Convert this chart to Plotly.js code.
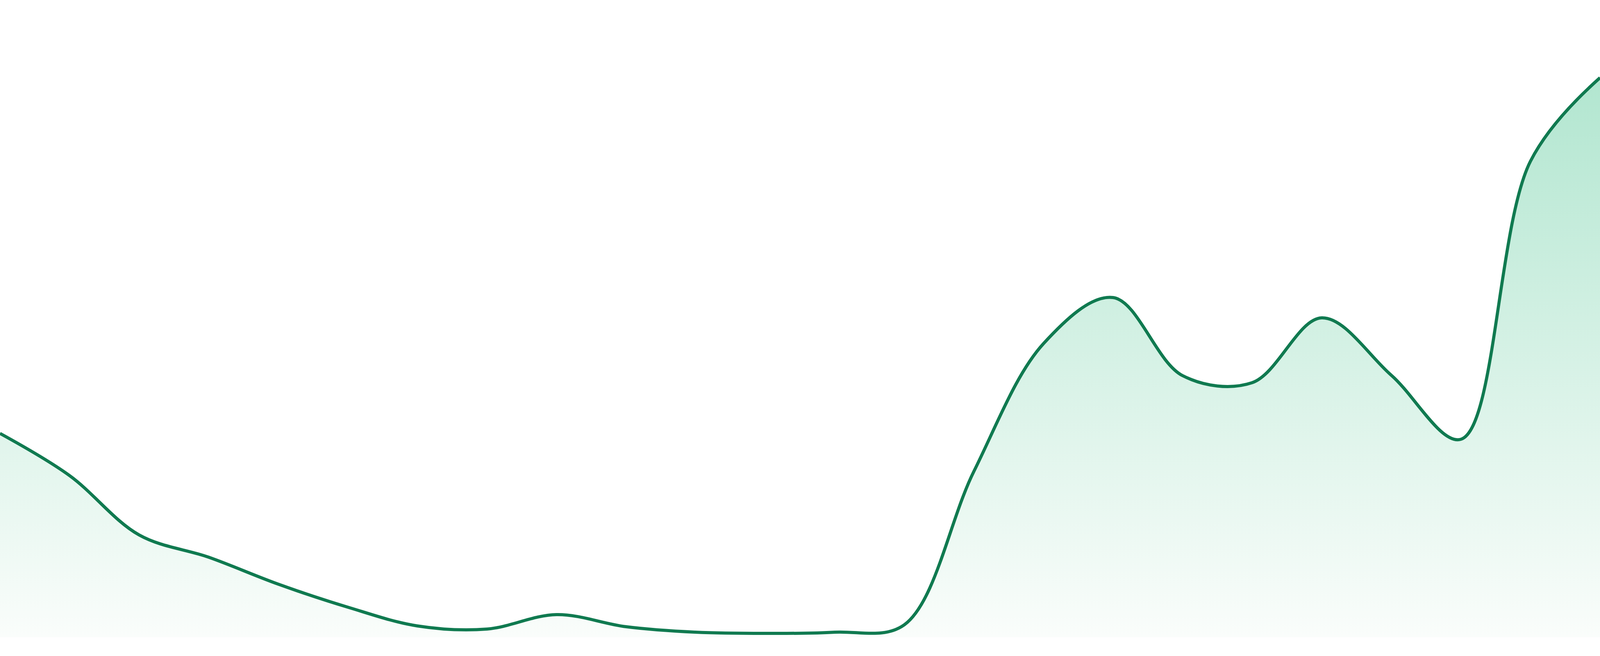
<!DOCTYPE html>
<html>
<head>
<meta charset="utf-8">
<script src="https://cdn.plot.ly/plotly-3.0.1.min.js"></script>
<style>
  html, body { margin: 0; padding: 0; background: #ffffff; overflow: hidden; }
  #chart { width: 100vw; height: 100vh; }
</style>
</head>
<body>
<div id="chart"></div>
<script>
// Series data (index = period, value = level)
const periods = [0,1,2,3,4,5,6,7,8,9,10,11,12,13,14,15,16,17,18,19,20,21,22,23];
const values  = [522,414,262,205,136,77,29,21,58,27,13,10,13,32,425,752,870,670,652,818,671,507,1219,1433];

const lineColor = '#107a50';

const trace = {
  x: periods,
  y: values,
  type: 'scatter',
  mode: 'lines',
  line: { color: lineColor, width: 8, shape: 'spline', smoothing: 1 },
  fill: 'tozeroy',
  fillgradient: {
    type: 'vertical',
    start: 0,
    stop: Math.max(...values),
    colorscale: [
      [0, 'rgb(250,253,251)'],
      [1, 'rgb(178,230,208)']
    ]
  },
  hoverinfo: 'skip'
};

const layout = {
  autosize: true,
  margin: { l: 0, r: 0, t: 0, b: 0, pad: 0 },
  paper_bgcolor: '#ffffff',
  plot_bgcolor: '#ffffff',
  showlegend: false,
  xaxis: { range: [0, periods.length - 1], visible: false, fixedrange: true },
  yaxis: { range: [-48, 1632], visible: false, fixedrange: true }
};

Plotly.newPlot('chart', [trace], layout, { staticPlot: true, displayModeBar: false, responsive: true });
</script>
</body>
</html>
